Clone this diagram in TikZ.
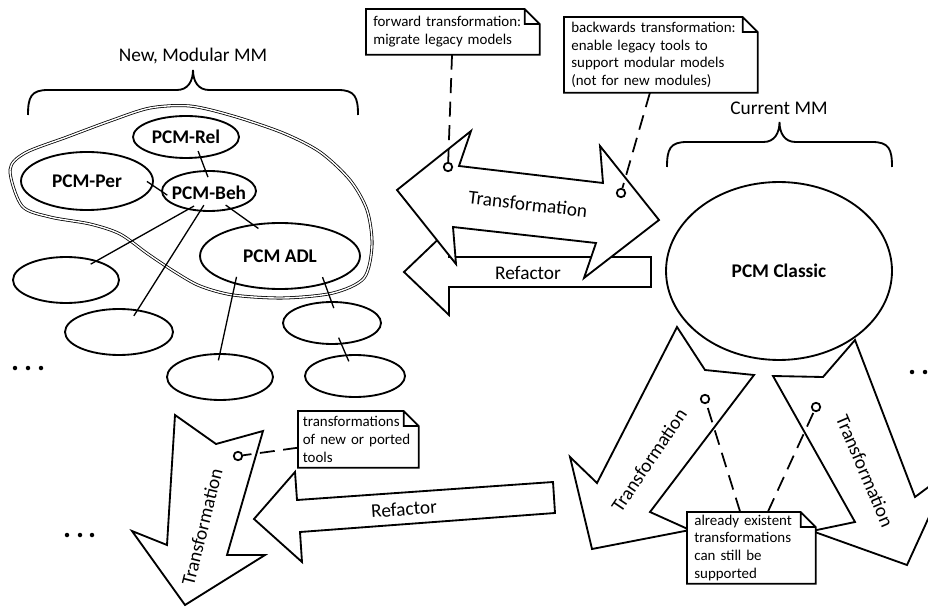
\documentclass[tikz,border=0pt]{standalone}
\usepackage{fontspec}
\setmainfont{Carlito}
\usetikzlibrary{shapes.geometric}

% curly bracket over a metamodel, ends at x=#1 and x=#2, foot at y=#3
\newcommand{\mmbrace}[3]{%
  \draw[bracket] (#1,#3) .. controls (#1,#3-18) and (#1+3,#3-25) .. (#1+20,#3-25)
    -- ({(#1+#2)/2-16},#3-25) .. controls ({(#1+#2)/2-5},#3-25) and ({(#1+#2)/2},#3-34) .. ({(#1+#2)/2},#3-45)
    .. controls ({(#1+#2)/2},#3-34) and ({(#1+#2)/2+5},#3-25) .. ({(#1+#2)/2+16},#3-25)
    -- (#2-20,#3-25) .. controls (#2-3,#3-25) and (#2,#3-18) .. (#2,#3);}
% note outline with a folded corner
\newcommand{\dogear}[1]{%
  \draw[notefold] (#1.north west) -- ([xshift=-0.3cm]#1.north east)
    -- ([yshift=-0.3cm]#1.north east) -- (#1.south east) -- (#1.south west) -- cycle
    ([xshift=-0.3cm]#1.north east) |- ([yshift=-0.3cm]#1.north east);}

\begin{document}
\begin{tikzpicture}[x=0.02cm, y=-0.02cm,
    module/.style={ellipse, draw, line width=1.05pt, fill=white, inner sep=0pt},
    modtext/.style={font=\fontsize{11}{13}\selectfont\bfseries, inner sep=0pt},
    link/.style={line width=0.75pt, shorten <=-0.15cm, shorten >=-0.15cm},
    blob/.style={line width=0.45pt, double, double distance=0.8pt},
    bigarrow/.style={draw, line width=1.05pt, fill=white, line join=miter, miter limit=6},
    arrowtext/.style={font=\fontsize{11}{13}\selectfont, inner sep=0pt},
    mmtext/.style={font=\fontsize{11}{13}\selectfont, inner sep=0pt},
    bracket/.style={line width=1.05pt},
    notebox/.style={rectangle, fill=white, anchor=north west, align=left,
      inner xsep=0.14cm, inner ysep=0pt, font=\fontsize{8.5}{10.1}\selectfont},
    notefold/.style={line width=1.05pt},
    noteline/.style={line width=1pt, dash pattern=on 0.3cm off 0.17cm},
    tack/.style={circle, draw, line width=1pt, fill=white, inner sep=0pt, minimum size=0.17cm}]
  \useasboundingbox (0,0) rectangle (928,607);

  % metamodels
  \mmbrace{28}{358}{115}
  \mmbrace{667}{892}{167}
  \node[mmtext] (newmm) at (193,56) {New, Modular MM};
  \node[mmtext] (curmm) at (779,108) {Current MM};

  % core of the modular metamodel
  \draw[blob] plot[smooth cycle] coordinates {(10,170) (25,153) (67,137) (110,121)
    (150,108) (190,106) (233,116) (283,133) (320,152) (350,180) (367,210) (372,245)
    (364,278) (333,293) (283,298) (233,295) (200,286) (175,272) (148,254) (120,234)
    (90,224) (50,217) (22,206)};

  \node[module, minimum width=2.12cm, minimum height=0.84cm] (rel) at (186,137) {};
  \node[module, minimum width=2.64cm, minimum height=1.16cm] (per) at (87,181) {};
  \node[module, minimum width=1.88cm, minimum height=0.80cm] (beh) at (209,191) {};
  \node[module, minimum width=3.20cm, minimum height=1.32cm] (adl) at (280,256) {};
  \node[module, minimum width=2.12cm, minimum height=0.92cm] (m1) at (66,280) {};
  \node[module, minimum width=2.16cm, minimum height=0.92cm] (m2) at (119,332) {};
  \node[module, minimum width=2.12cm, minimum height=0.92cm] (m3) at (220,377) {};
  \node[module, minimum width=1.96cm, minimum height=0.84cm] (m4) at (332,323) {};
  \node[module, minimum width=2.00cm, minimum height=0.84cm] (m5) at (355,376) {};
  \node[modtext] (rel-t) at (rel) {PCM-Rel};
  \node[modtext] (per-t) at (per) {PCM-Per};
  \node[modtext] (beh-t) at ([yshift=-0.03cm]beh) {PCM-Beh};
  \node[modtext] (adl-t) at (adl) {PCM ADL};

  \draw[link] (rel.-55) -- (beh.100);
  \draw[link] (per.-4) -- (beh.180);
  \draw[link] (beh.-39) -- (adl.131);
  \draw[link] (beh.221) -- (m1.32);
  \draw[link] (beh.246) -- (m2.50);
  \draw[link] (adl.212) -- (m3.90);
  \draw[link] (adl.-32) -- (m4.92);
  \draw[link] (m4.-66) -- (m5.113);

  \foreach \x in {15,28,41} \fill (\x,368) circle (0.045cm);
  \foreach \x in {67,80,92} \fill (\x,535) circle (0.045cm);
  \foreach \x in {912,925,938} \fill (\x,372) circle (0.045cm);

  % between the two metamodels
  \draw[bigarrow] (404,272) -- (449,229) -- (449,257) -- (651,257) -- (651,287)
    -- (449,287) -- (449,315) -- cycle;
  \draw[bigarrow] (397,190) -- (471,131) -- (459,166) -- (603,183) -- (600,146)
    -- (659,220) -- (584,278) -- (596,243) -- (453,227) -- (456,264) -- cycle;
  \node[arrowtext] (refac-top) at (528,273) {Refactor};
  \node[arrowtext, rotate=-6.5] (trans-top) at (528,204) {Transformation};

  % current metamodel
  \node[module, minimum width=4.52cm, minimum height=3.56cm] (classic) at (779,271) {};
  \node[modtext] (classic-t) at (classic) {PCM Classic};

  % tools
  \draw[bigarrow] (677,327) -- (705,370) -- (754,375) -- (650,512) -- (690,530)
    -- (592,549) -- (570,457) -- (597,483) -- cycle;
  \draw[bigarrow] (773,376) -- (823,377) -- (855,340) -- (915,497) -- (950,471)
    -- (907,565) -- (812,531) -- (855,522) -- cycle;
  \draw[bigarrow] (175,415) -- (216,444) -- (263,431) -- (227,555) -- (265,555)
    -- (185,605) -- (132,531) -- (167,545) -- cycle;
  \draw[bigarrow] (254,519) -- (295,472) -- (297,500) -- (553,482) -- (555,513)
    -- (300,532) -- (302,562) -- cycle;
  \node[arrowtext, rotate=56] (trans-cl) at (649,460) {Transformation};
  \node[arrowtext, rotate=-67] (trans-cr) at (865,471) {Transformation};
  \node[arrowtext, rotate=76] (trans-new) at (202,527) {Transformation};
  \node[arrowtext, rotate=4] (refac-low) at (404,509) {Refactor};

  % notes
  \node[notebox, text width=3.18cm, minimum height=0.9cm] (fwdnote) at (366,9)
    {forward transformation:\\migrate legacy models};
  \dogear{fwdnote}
  \node[notebox, text width=3.58cm, minimum height=1.5cm] (bwdnote) at (564,17)
    {backwards transformation:\\enable legacy tools to\\support modular models\\(not for new modules)};
  \dogear{bwdnote}
  \node[notebox, text width=2.28cm, minimum height=1.42cm] (keepnote) at (687,512)
    {already existent\\transformations\\can still be\\supported};
  \dogear{keepnote}
  \node[notebox, inner xsep=0.09cm, text width=2.22cm, minimum height=1.12cm] (toolnote) at (298,411)
    {transformations\\of new or ported\\tools};
  \dogear{toolnote}

  \node[tack] (fwdtack) at (448,167) {};
  \node[tack] (bwdtack) at (621,193) {};
  \node[tack] (cltack) at (705,399) {};
  \node[tack] (crtack) at (816,407) {};
  \node[tack] (newtack) at (238,456) {};
  \draw[noteline] (fwdnote) -- (fwdtack);
  \draw[noteline] (bwdnote) -- (bwdtack);
  \draw[noteline] (keepnote) -- (cltack);
  \draw[noteline] (keepnote) -- (crtack);
  \draw[noteline] (toolnote) -- (newtack);
\end{tikzpicture}
\end{document}
